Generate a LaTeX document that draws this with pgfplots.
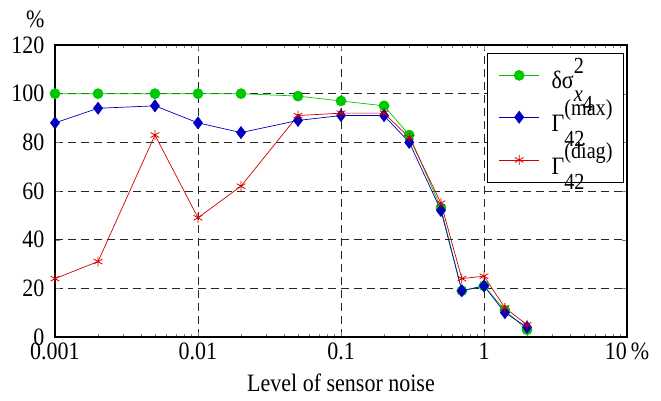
\documentclass[border=0pt]{standalone}
\usepackage{pgfplots}
\pgfplotsset{compat=1.18}
\usepackage{fontspec}
\setmainfont{Liberation Serif}[FakeStretch=0.88]
\definecolor{cgreen}{RGB}{0,200,0}
\definecolor{cblue}{RGB}{0,0,190}
\definecolor{cred}{RGB}{210,0,0}
\newcommand{\bigfont}{\fontsize{25}{28}\selectfont}
\newcommand{\supfont}{\fontsize{23}{25}\selectfont}
\begin{document}
\bigfont
\begin{tikzpicture}
\begin{axis}[
  scale only axis,
  width=572pt, height=292pt,
  xmode=log,
  xmin=0.001, xmax=10,
  ymin=0, ymax=120,
  xtick={0.001,0.01,0.1,1,10},
  xticklabels={0.001,0.01,0.1,1,10\,\%},
  ytick={0,20,40,60,80,100,120},
  % the unit sits above the top tick label
  yticklabels={0,20,40,60,80,100,{120\llap{\smash{\raisebox{26pt}{\%}}}}},
  minor xtick={},
  minor tick num=0,
  /pgf/number format/assume math mode=true,
  tick label style={font=\bigfont},
  xticklabel style={yshift=3pt},
  yticklabel style={xshift=-2pt},
  xlabel={Level of sensor noise},
  xlabel style={font=\bigfont, yshift=2pt},
  tick align=inside,
  major tick length=5pt,
  xtick pos=both, ytick pos=both,
  grid=major,
  major grid style={black!85, line width=0.8pt, dash pattern=on 8pt off 5pt},
  axis line style={black, line width=1.1pt},
  legend style={at={(0.995,0.973)}, anchor=north east, draw=black, line width=1.1pt,
    font=\bigfont, row sep=3pt, inner xsep=11pt, inner ysep=3pt,
    nodes={inner xsep=0pt}},
  legend cell align=left,
  legend image code/.code={
    \draw[mark repeat=2, mark phase=2] plot coordinates {(0pt,0pt) (20pt,0pt) (40pt,0pt)};
  },
  clip=false,
]
% relative variance
\addplot[cgreen, line width=0.7pt, mark=*, mark size=5pt, mark options={fill=cgreen, draw=cgreen}] coordinates {
(0.001,100) (0.002,100) (0.005,100) (0.01,100) (0.02,100) (0.05,99) (0.1,97) (0.2,95)
(0.3,83) (0.5,53) (0.7,19) (1,21) (1.4,11) (2,3)};
\addlegendentry{\rule[-16pt]{0pt}{40pt}\hspace{12pt}δσ\rlap{\raisebox{-1.1ex}{\supfont\itshape x}\raisebox{-2.0ex}{\supfont 4}}\raisebox{1.3ex}{\supfont 2}}
% maximum criterion
\addplot[cblue, line width=0.7pt, mark=diamond*, mark size=6pt, mark options={fill=cblue, draw=cblue}] coordinates {
(0.001,88) (0.002,94) (0.005,95) (0.01,88) (0.02,84) (0.05,89) (0.1,91) (0.2,91)
(0.3,80) (0.5,52) (0.7,19) (1,21) (1.4,10) (2,4)};
\addlegendentry{\rule[-14pt]{0pt}{38pt}\hspace{12pt}Γ\rlap{\raisebox{-1.3ex}{\supfont 42}}\raisebox{1.4ex}{\supfont (max)}\hspace{10pt}}
% diagonal criterion
\addplot[cred, line width=0.7pt, mark=asterisk, mark size=5pt, mark options={draw=cred, line width=0.8pt}] coordinates {
(0.001,24) (0.002,31) (0.005,83) (0.01,49) (0.02,62) (0.05,91) (0.1,92) (0.2,92)
(0.3,82) (0.5,55) (0.7,24) (1,25) (1.4,12) (2,5)};
\addlegendentry{\rule[-13pt]{0pt}{36pt}\hspace{12pt}Γ\rlap{\raisebox{-1.3ex}{\supfont 42}}\raisebox{1.4ex}{\supfont (diag)}\hspace{10pt}}
\end{axis}
\path (-55pt,-61pt) rectangle (606pt,337pt);
\end{tikzpicture}
\end{document}
